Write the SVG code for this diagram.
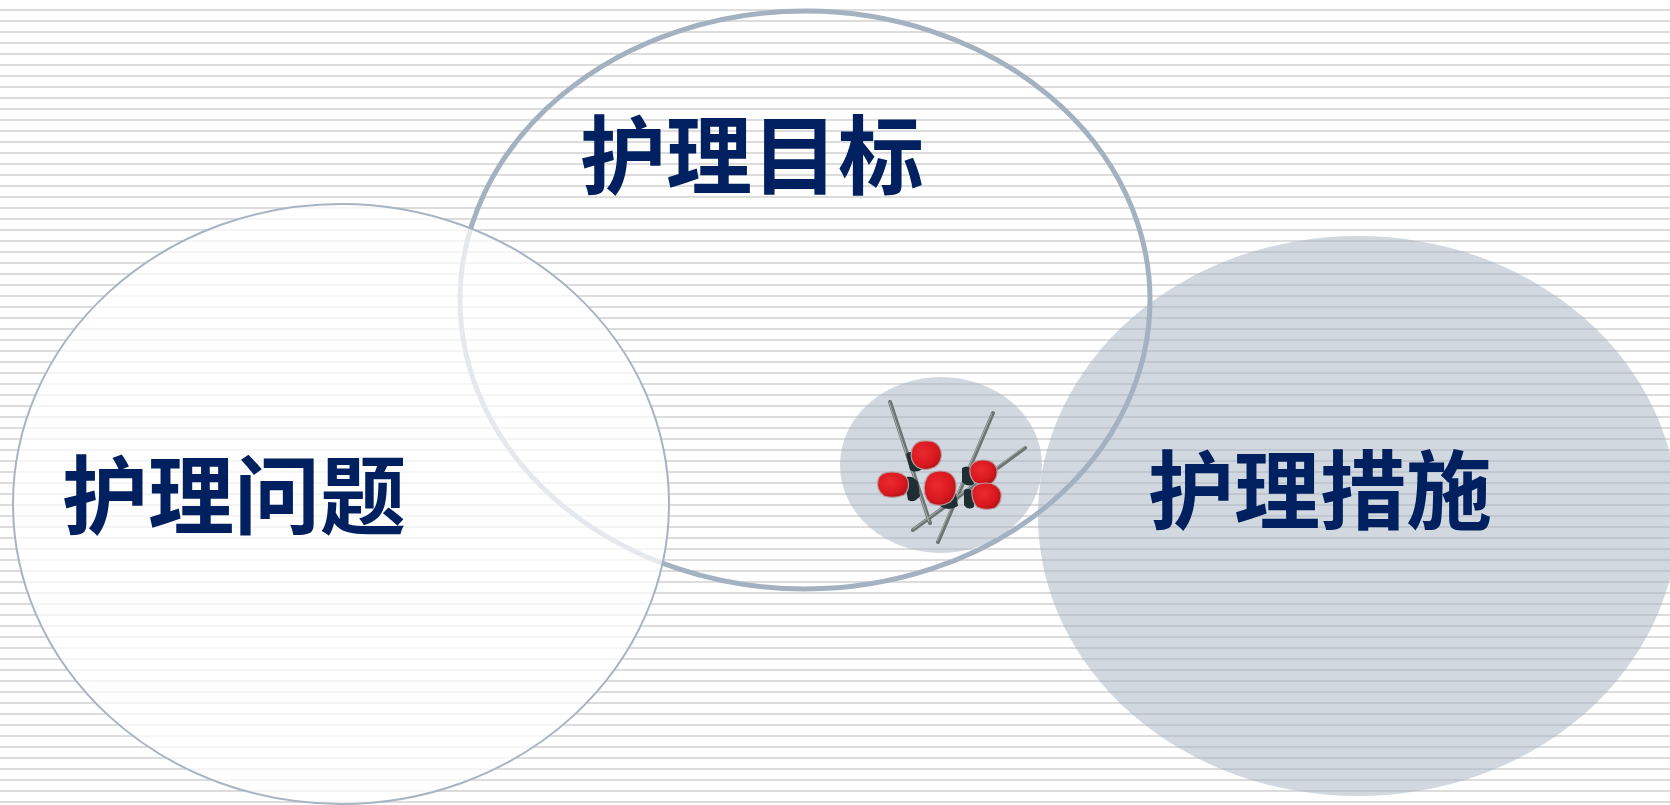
<svg xmlns="http://www.w3.org/2000/svg" width="1670" height="805" viewBox="0 0 1670 805">
  <defs>
    <pattern id="stripes" x="0" y="0" width="1670" height="11" patternUnits="userSpaceOnUse">
      <rect x="0" y="9" width="1670" height="2" fill="#dcdcdc"/>
    </pattern>
    <radialGradient id="petal" cx="0.4" cy="0.4" r="0.65">
      <stop offset="0" stop-color="#ea2a2e"/>
      <stop offset="0.7" stop-color="#d8181e"/>
      <stop offset="1" stop-color="#b01217"/>
    </radialGradient>
  </defs>
  <style>
    .label { font-family: "Noto Sans CJK SC", "Noto Sans CJK TC", sans-serif; font-weight: 700; font-size: 86px; fill: #002060; text-anchor: middle; }
    .tint { fill: #a3b1c1; fill-opacity: 0.5; }
    .stem { stroke: #6d7574; stroke-width: 4; stroke-linecap: round; fill: none; }
    .stem-hi { stroke: #a9b0b0; stroke-width: 1; stroke-linecap: round; fill: none; }
    .bloom { fill: url(#petal); stroke: #b89a9d; stroke-width: 1.2; }
    .calyx { fill: #1f2e33; }
  </style>

  <!-- ruled background -->
  <rect width="1670" height="805" fill="#ffffff"/>
  <rect width="1670" height="805" fill="url(#stripes)"/>

  <!-- 护理措施 -->
  <g id="node-measures">
    <ellipse class="tint" cx="1358" cy="516" rx="320" ry="280"/>
  </g>

  <!-- small disc with plum sprig -->
  <g id="node-sprig">
    <ellipse class="tint" cx="941" cy="465" rx="101" ry="88"/>
    <g id="sprig">
      <line class="stem" x1="890" y1="402" x2="930" y2="523"/>
      <line class="stem" x1="993" y1="413" x2="938" y2="542"/>
      <line class="stem" x1="1025" y1="448" x2="913" y2="530"/>
      <line class="stem-hi" x1="889" y1="402" x2="929" y2="522"/>
      <line class="stem-hi" x1="992" y1="413" x2="937" y2="541"/>
      <line class="stem-hi" x1="1024" y1="447" x2="913" y2="529"/>
      <!-- calyces, tucked under the blossoms -->
      <path class="calyx" d="M906 454 q4 -4 10 0 l8 14 q-8 6 -14 2 z"/>
      <path class="calyx" d="M904 478 q8 -4 14 4 l2 14 q-6 8 -12 4 z"/>
      <path class="calyx" d="M938 492 q10 -4 18 2 l2 12 q-10 6 -18 0 z"/>
      <path class="calyx" d="M962 468 q6 -4 10 2 l2 14 q-6 4 -12 -2 z"/>
      <path class="calyx" d="M964 490 q6 -3 10 3 l0 14 q-6 4 -10 -2 z"/>
      <!-- blossoms -->
      <path class="bloom" d="M912 449 q4 -9 14 -8 q12 -1 15 10 q2 11 -6 16 q-10 5 -18 0 q-8 -6 -5 -18 z"/>
      <path class="bloom" d="M878 480 q2 -8 14 -8 q12 0 16 8 q2 10 -4 15 q-10 4 -20 1 q-8 -6 -6 -16 z"/>
      <path class="bloom" d="M925 482 q3 -11 15 -11 q14 0 16 13 q1 12 -6 18 q-10 6 -20 1 q-8 -8 -5 -21 z"/>
      <path class="bloom" d="M970 468 q3 -8 13 -8 q11 0 14 9 q1 9 -5 14 q-10 3 -18 -1 q-5 -6 -4 -14 z"/>
      <path class="bloom" d="M972 490 q3 -7 14 -7 q12 0 15 10 q1 10 -6 15 q-10 3 -18 -1 q-6 -7 -5 -17 z"/>
    </g>
  </g>

  <!-- 护理目标 -->
  <g id="node-goals">
    <ellipse cx="805" cy="300" rx="345" ry="289" fill="none" stroke="#a3b1c1" stroke-width="5"/>
  </g>

  <!-- 护理问题 -->
  <g id="node-problems">
    <ellipse cx="341" cy="504" rx="328" ry="300" fill="#ffffff" fill-opacity="0.72" stroke="#a7b4c4" stroke-width="2"/>
  </g>

  <g id="connectors"></g>

  <g id="labels">
    <text class="label" x="752" y="188">护理目标</text>
    <text class="label" x="234" y="528">护理问题</text>
    <text class="label" x="1320" y="523">护理措施</text>
  </g>
</svg>
